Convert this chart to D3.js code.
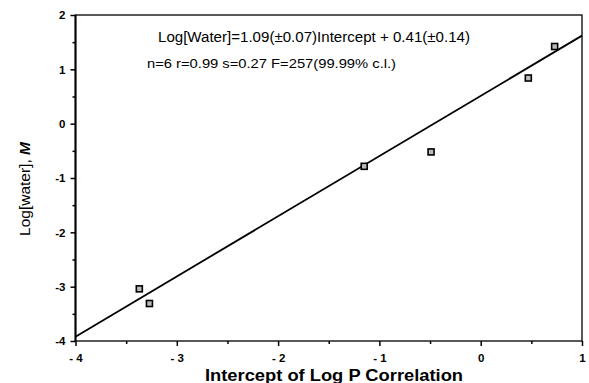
<!DOCTYPE html>
<html>
<head>
<meta charset="utf-8">
<script src="https://cdn.jsdelivr.net/npm/d3@7"></script>
<style>
  body { margin: 0; background: #fff; }
  svg { display: block; font-family: "Liberation Sans", Arial, sans-serif; }
</style>
</head>
<body>
<div id="chart"></div>
<script>
// measured points: intercept of log P correlation vs log[water]
const intercepts = [-3.37, -3.27, -1.15, -0.49, 0.47, 0.73];
const logWater = [-3.04, -3.31, -0.785, -0.52, 0.84, 1.42];

// regression line as drawn (ends of the plotted segment)
const fitX = [-4, 1];
const fitY = [-3.92, 1.62];

const xTicks = [-4, -3, -2, -1, 0, 1];
const xTickLabels = ["- 4", "- 3", "- 2", "- 1", "0", "1"];
const yTicks = [2, 1, 0, -1, -2, -3, -4];
const yTickLabels = ["2", "1", "0", "-1", "-2", "-3", "-4"];
const xMinor = [-3.5, -2.5, -1.5, -0.5, 0.5];
const yMinor = [1.5, 0.5, -0.5, -1.5, -2.5, -3.5];

const equationLines = [
  "Log[Water]=1.09(\u00b10.07)Intercept + 0.41(\u00b10.14)",
  "n=6 r=0.99 s=0.27 F=257(99.99% c.l.)"
];

const width = 589, height = 383;
const margin = {top: 15, right: 7, bottom: 42, left: 75.5};

const svg = d3.select("#chart")
  .append("svg")
  .attr("width", width)
  .attr("height", height);

const x = d3.scaleLinear()
  .domain([-4, 1])
  .range([margin.left, width - margin.right]);

const y = d3.scaleLinear()
  .domain([-4, 2])
  .range([height - margin.bottom, margin.top]);

// frame
svg.append("rect")
  .attr("x", x(-4))
  .attr("y", y(2))
  .attr("width", x(1) - x(-4))
  .attr("height", y(-4) - y(2))
  .attr("fill", "none")
  .attr("stroke", "#000")
  .attr("stroke-width", 1.3);

// left axis drawn heavier
svg.append("line")
  .attr("x1", x(-4)).attr("x2", x(-4))
  .attr("y1", y(2)).attr("y2", y(-4))
  .attr("stroke", "#000")
  .attr("stroke-width", 2);

// x axis
const xAxis = svg.append("g")
  .attr("transform", "translate(0," + y(-4) + ")")
  .call(d3.axisBottom(x)
    .tickValues(xTicks)
    .tickSize(5)
    .tickPadding(8)
    .tickFormat((d, i) => xTickLabels[i]));
xAxis.select(".domain").remove();
xAxis.selectAll(".tick line").attr("stroke-width", 1.5);
xAxis.selectAll(".tick text")
  .attr("font-size", 11.5)
  .attr("font-weight", "bold")
  .attr("font-family", "Liberation Sans, Arial, sans-serif");

const xAxisMinor = svg.append("g")
  .attr("transform", "translate(0," + y(-4) + ")")
  .call(d3.axisBottom(x).tickValues(xMinor).tickSize(3).tickFormat(""));
xAxisMinor.select(".domain").remove();
xAxisMinor.selectAll(".tick line").attr("stroke-width", 1.5);

// y axis
const yAxis = svg.append("g")
  .attr("transform", "translate(" + x(-4) + ",0)")
  .call(d3.axisLeft(y)
    .tickValues(yTicks)
    .tickSize(5)
    .tickPadding(5)
    .tickFormat((d, i) => yTickLabels[i]));
yAxis.select(".domain").remove();
yAxis.selectAll(".tick line").attr("stroke-width", 1.5);
yAxis.selectAll(".tick text")
  .attr("font-size", 11.5)
  .attr("font-weight", "bold")
  .attr("font-family", "Liberation Sans, Arial, sans-serif");

const yAxisMinor = svg.append("g")
  .attr("transform", "translate(" + x(-4) + ",0)")
  .call(d3.axisLeft(y).tickValues(yMinor).tickSize(3).tickFormat(""));
yAxisMinor.select(".domain").remove();
yAxisMinor.selectAll(".tick line").attr("stroke-width", 1.5);

// fit line
const fit = fitX.map((d, i) => ({x: d, y: fitY[i]}));
svg.append("path")
  .datum(fit)
  .attr("d", d3.line().x(d => x(d.x)).y(d => y(d.y)))
  .attr("fill", "none")
  .attr("stroke", "#000")
  .attr("stroke-width", 1.8);

// data markers
const points = intercepts.map((d, i) => ({x: d, y: logWater[i]}));
const s = 6;
svg.append("g")
  .selectAll("rect")
  .data(points)
  .join("rect")
  .attr("x", d => x(d.x) - s / 2)
  .attr("y", d => y(d.y) - s / 2)
  .attr("width", s)
  .attr("height", s)
  .attr("fill", "#bbb")
  .attr("stroke", "#000")
  .attr("stroke-width", 1.6);

// equation text
svg.append("text")
  .attr("x", 158)
  .attr("y", 42)
  .attr("font-size", 14)
  .attr("textLength", 312)
  .attr("lengthAdjust", "spacingAndGlyphs")
  .text(equationLines[0]);

svg.append("text")
  .attr("x", 147)
  .attr("y", 67.5)
  .attr("font-size", 13.5)
  .attr("textLength", 249)
  .attr("lengthAdjust", "spacingAndGlyphs")
  .text(equationLines[1]);

// axis titles
svg.append("text")
  .attr("x", 205)
  .attr("y", 381)
  .attr("font-size", 16)
  .attr("font-weight", "bold")
  .attr("textLength", 258)
  .attr("lengthAdjust", "spacingAndGlyphs")
  .text("Intercept of Log P Correlation");

const yTitle = svg.append("text")
  .attr("transform", "translate(29.5,189) rotate(-90)")
  .attr("text-anchor", "middle")
  .attr("font-size", 15.5);
yTitle.append("tspan").text("Log[water], ");
yTitle.append("tspan")
  .attr("font-weight", "bold")
  .attr("font-style", "italic")
  .text("M");
</script>
</body>
</html>
